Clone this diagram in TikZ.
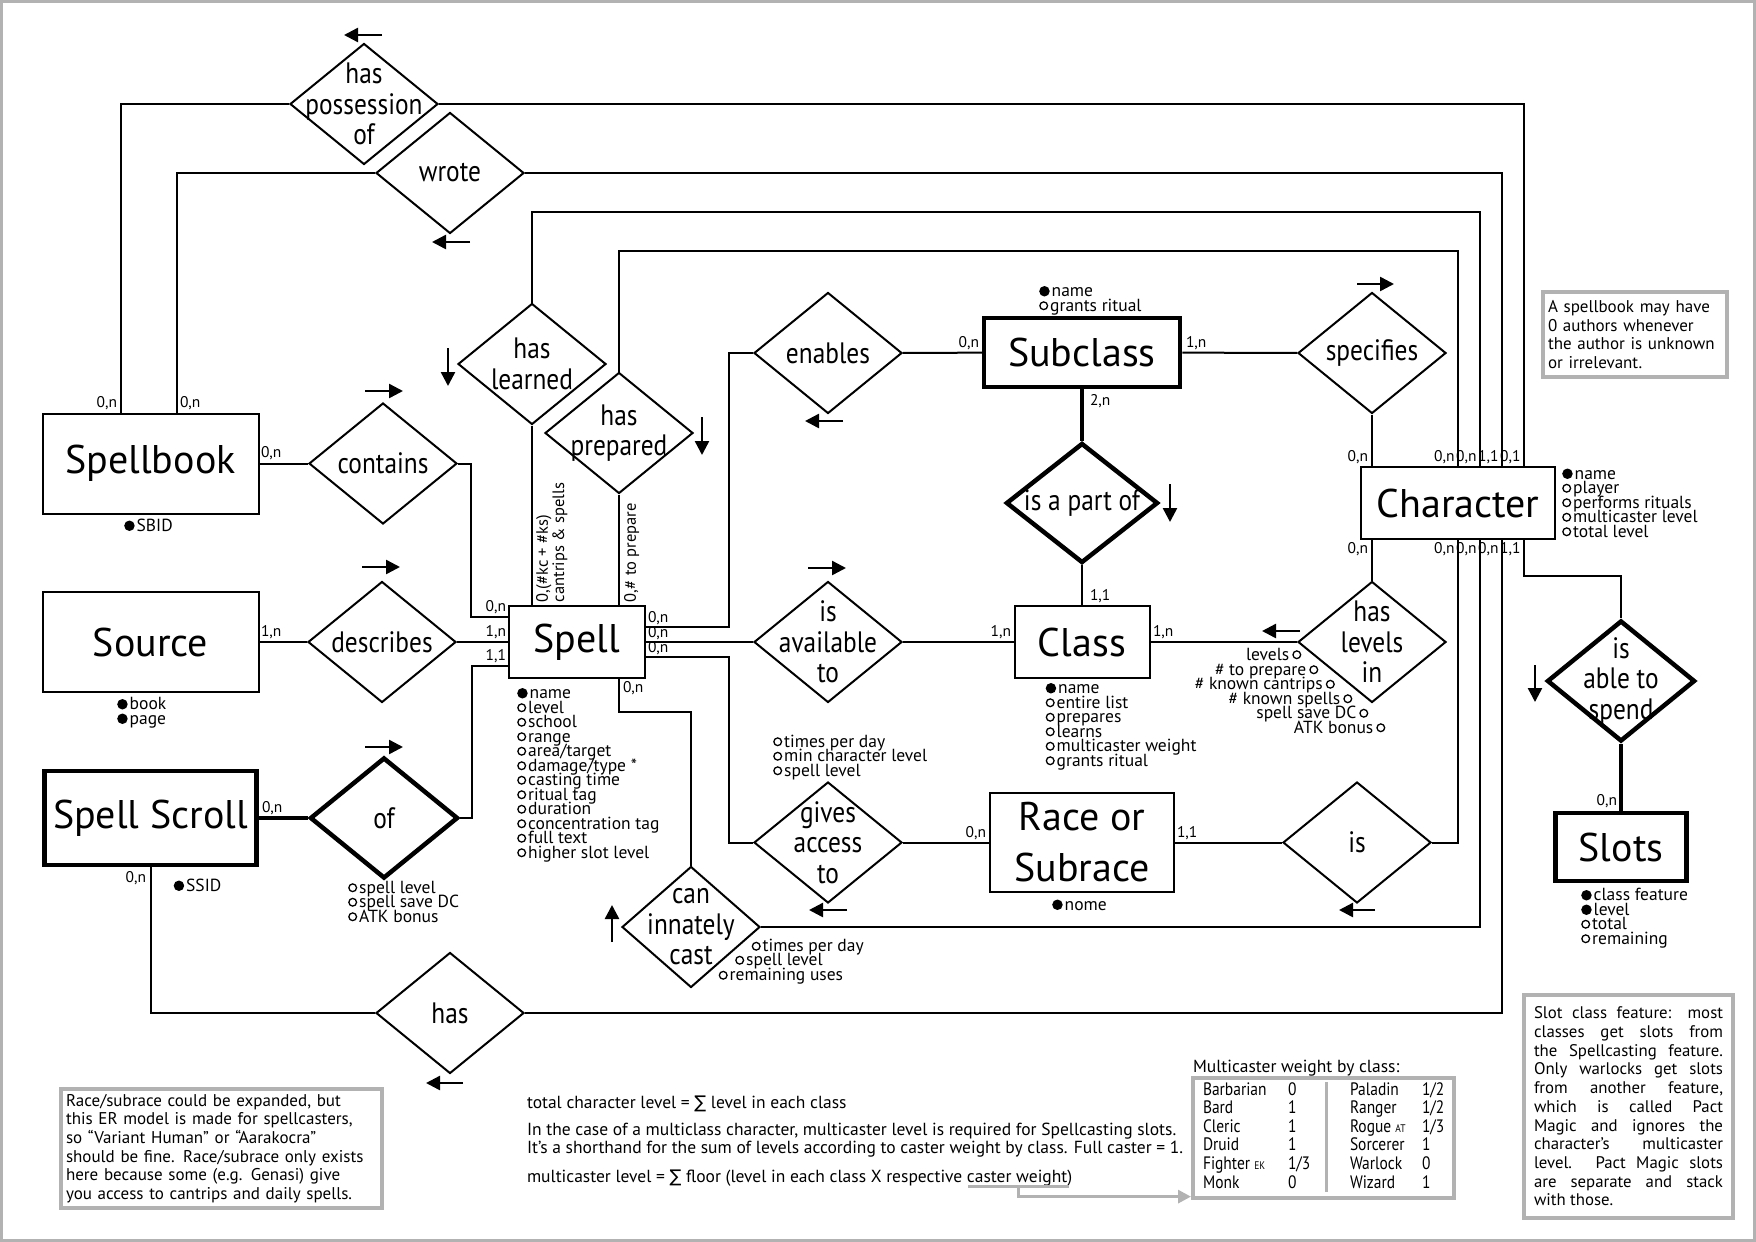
\documentclass[tikz,border=0pt]{standalone}
\usepackage{fontspec}
\setmainfont{PT Sans}
\newfontfamily\condfont{PT Sans}[FakeStretch=0.86]
\newfontfamily\symbfont{DejaVu Sans}
\usetikzlibrary{shapes.geometric,arrows.meta}

\newcommand{\entfont}{\fontsize{40}{51}\selectfont}
\newcommand{\relfont}{\condfont\fontsize{29.5}{30.5}\selectfont}
\newcommand{\cardfont}{\fontsize{15.5}{15.5}\selectfont}
\newcommand{\sidefont}{\fontsize{16.5}{14}\selectfont}
\newcommand{\attrfont}{\fontsize{17.5}{14.5}\selectfont\lineskiplimit=-20pt\lineskip=0pt}
\newcommand{\notefont}{\fontsize{17}{18.7}\selectfont}
\newcommand{\plainfont}{\fontsize{17.5}{15}\selectfont}
\newcommand{\tablefont}{\condfont\fontsize{18}{18.6}\selectfont}
\newcommand{\kp}{\tikz[baseline=-0.3em]\fill (0,0) circle (0.3em);\hspace{2pt}}
\newcommand{\op}{\tikz[baseline=-0.3em]\draw[line width=1.3pt] (0,0) circle (0.22em);\hspace{2pt}}
\newcommand{\po}{\hspace{3pt}\tikz[baseline=-0.3em]\draw[line width=1.3pt] (0,0) circle (0.22em);}
\newcommand{\sumsign}{{\symbfont ∑}}

\begin{document}
\begin{tikzpicture}[x=1pt, y=-1pt, line width=2pt,
  entity/.style={draw, font=\entfont, inner sep=0pt, align=center},
  heavy/.style={line width=4.5pt},
  rel/.style={diamond, draw, minimum width=148, minimum height=121, inner sep=0pt,
    label={[font=\relfont, align=center]center:{#1}}},
  card/.style={font=\cardfont, inner sep=1pt},
  attr/.style={font=\attrfont, align=left, inner sep=0pt, anchor=base west},
  flow/.style={-{Triangle[length=14pt,width=14pt]}, line width=2.5pt},
  notebox/.style={draw=black!30, line width=4pt, font=\notefont, align=left,
    inner sep=5pt, anchor=north west},
  hint/.style={draw=black!30, line width=3pt}]

\useasboundingbox (0,0) rectangle (1756,1242);
\draw[black!30, line width=2.5pt] (1.5,1.5) rectangle (1754.5,1240.5);

% entities
\node[entity, minimum width=216, minimum height=100] (spellbook) at (150.5,463.5) {Spellbook};
\node[entity, minimum width=216, minimum height=100] (source) at (150.5,642) {Source};
\node[entity, heavy, minimum width=212, minimum height=94] (scroll) at (150.5,818) {Spell Scroll};
\node[entity, minimum width=136, minimum height=72] (spell) at (577,642) {Spell};
\node[entity, heavy, minimum width=196, minimum height=69] (subclass) at (1082,352.5) {Subclass};
\node[entity, minimum width=135, minimum height=72] (class) at (1082,642) {Class};
\node[entity, minimum width=194, minimum height=72] (character) at (1458,503) {Character};
\node[entity, minimum width=184, minimum height=99] (race) at (1082,842.5) {Race or\\Subrace};
\node[entity, heavy, minimum width=131, minimum height=68] (slots) at (1621,847) {Slots};

% relationships
\node[rel={has\\possession\\of}] (possession) at (364,104) {};
\node[rel={wrote}] (wrote) at (450,173) {};
\node[rel={has\\learned}] (learned) at (532,364) {};
\node[rel={has\\prepared}] (prepared) at (619,433) {};
\node[rel={contains}] (contains) at (383,463.5) {};
\node[rel={describes}] (describes) at (382,642) {};
\node[rel={of}, heavy] (of) at (384,818) {};
\node[rel={enables}] (enables) at (828,353) {};
\node[rel={is\\available\\to}] (available) at (828,642) {};
\node[rel={gives\\access\\to}] (access) at (828,842.5) {};
\node[rel={can\\innately\\cast}, minimum width=138] (innate) at (691,927) {};
\node[rel={has}] (has) at (450,1013) {};
\node[rel={is a part of}, heavy, minimum width=152, minimum height=120] (partof) at (1082,503) {};
\node[rel={specifies}] (specifies) at (1372,353) {};
\node[rel={has\\levels\\in}] (levels) at (1372,642) {};
\node[rel={is}] (is) at (1357,842.5) {};
\node[rel={is\\able to\\spend}, heavy, every label/.append style={yshift=8pt}] (spend) at (1621,681) {};

% connectors
\draw (possession.west) -| ([xshift=-29.5]spellbook.north);
\draw (possession.east) -| ([xshift=66]character.north);
\draw (wrote.west) -| ([xshift=26]spellbook.north);
\draw (wrote.east) -| ([xshift=44]character.north);
\draw (learned.north) |- (1480,212) -- ([xshift=22]character.north);
\draw (learned.south) -- (learned.south |- spell.north);
\draw (prepared.north) |- (1458,251) -- (character.north);
\draw (prepared.south) -- (prepared.south |- spell.north);
\draw (spellbook) -- (contains);
\draw (contains.east) -| (471,617) -- ([yshift=25]spell.west);
\draw (source) -- (describes);
\draw (describes) -- (spell);
\draw[heavy] (scroll) -- (of);
\draw (of.east) -| (472,666) -- ([yshift=-24]spell.west);
\draw (scroll.south) |- (has.west);
\draw (has.east) -| ([xshift=44]character.south);
\draw ([yshift=15]spell.east) -| (729,353) -- (enables.west);
\draw (enables) -- (subclass);
\draw (spell) -- (available);
\draw (available) -- (class);
\draw ([yshift=-15]spell.east) -| (729,842.5) -- (access.west);
\draw (access) -- (race);
\draw ([xshift=42]spell.south) |- (691,712) -- (innate.north);
\draw (innate.east) -| ([xshift=22]character.south);
\draw[heavy] (subclass) -- (partof);
\draw (partof) -- (class);
\draw (subclass) -- (specifies);
\draw (specifies) -- (specifies |- character.north);
\draw (levels) -- (levels |- character.south);
\draw (levels) -- (class);
\draw (race) -- (is);
\draw (is.east) -| (character.south);
\draw ([xshift=66]character.south) |- (1621,576) -- (spend.north);
\draw[heavy] (spend) -- (slots);

% reading direction
\draw[flow] (382,35) -- (344,35);
\draw[flow] (470,242) -- (432,242);
\draw[flow] (448,348) -- (448,386);
\draw[flow] (365,391) -- (403,391);
\draw[flow] (702,417) -- (702,455);
\draw[flow] (843,421) -- (805,421);
\draw[flow] (1357,284) -- (1394,284);
\draw[flow] (1170,484) -- (1170,522);
\draw[flow] (362,567) -- (400,567);
\draw[flow] (808,568) -- (846,568);
\draw[flow] (1300,631) -- (1262,631);
\draw[flow] (365,747) -- (403,747);
\draw[flow] (1535,665) -- (1535,702);
\draw[flow] (847,910) -- (809,910);
\draw[flow] (612,942) -- (612,905);
\draw[flow] (1375,910) -- (1339,910);
\draw[flow] (463,1083) -- (426,1083);

% cardinalities
\node[card, anchor=south east] (cbA) at (119,412) {0,n};
\node[card, anchor=south west] (cbB) at (178,412) {0,n};
\node[card, anchor=south west] (cbC) at (259,462) {0,n};
\node[card, anchor=south west] (csA) at (259,641) {1,n};
\node[card, anchor=south east] (cpA) at (508,616) {0,n};
\node[card, anchor=south east] (cpB) at (508,641) {1,n};
\node[card, anchor=south east] (cpC) at (508,665) {1,1};
\node[card, anchor=south west] (cpD) at (646,627) {0,n};
\node[card, anchor=south west] (cpE) at (646,642) {0,n};
\node[card, anchor=south west] (cpF) at (646,657) {0,n};
\node[card, anchor=north west] (cpG) at (621,679) {0,n};
\node[font=\sidefont, rotate=90, anchor=north west, align=left, inner sep=1pt] (cpH) at (534,604) {0,(\#kc + \#ks)\\cantrips \& spells};
\node[font=\sidefont, rotate=90, anchor=north west, align=left, inner sep=1pt] (cpI) at (622,604) {0,\# to prepare};
\node[card, anchor=south east] (cuA) at (981,352) {0,n};
\node[card, anchor=south west] (cuB) at (1184,352) {1,n};
\node[card, anchor=north west] (cuC) at (1088,392) {2,n};
\node[card, anchor=south west] (clA) at (1088,605) {1,1};
\node[card, anchor=south east] (clB) at (1013,641) {1,n};
\node[card, anchor=south west] (clC) at (1151,641) {1,n};
\node[card, anchor=south east] (chA) at (1370,466) {0,n};
\node[card, anchor=south east] (chB) at (1456.5,466) {0,n};
\node[card, anchor=south east] (chC) at (1478.5,466) {0,n};
\node[card, anchor=south east] (chD) at (1500.5,466) {1,1};
\node[card, anchor=south east] (chE) at (1522.5,466) {0,1};
\node[card, anchor=north east] (chF) at (1370,540) {0,n};
\node[card, anchor=north east] (chG) at (1456.5,540) {0,n};
\node[card, anchor=north east] (chH) at (1478.5,540) {0,n};
\node[card, anchor=north east] (chI) at (1500.5,540) {0,n};
\node[card, anchor=north east] (chJ) at (1522.5,540) {1,1};
\node[card, anchor=south east] (crA) at (988,842) {0,n};
\node[card, anchor=south west] (crB) at (1175,842) {1,1};
\node[card, anchor=south east] (cslA) at (1619,810) {0,n};
\node[card, anchor=south west] (cscA) at (260,817) {0,n};
\node[card, anchor=north east] (cscB) at (148,869) {0,n};

% attributes (anchored on the baseline of the last line)
\node[attr] (bookattr) at (124,531) {\kp SBID};
\node[attr] (sourceattr) at (117,724) {\kp book\\\kp page};
\node[attr] (scrollattr) at (173.5,891) {\kp SSID};
\node[attr] (ofattr) at (348,922) {\op spell level\\\op spell save DC\\\op ATK bonus};
\node[attr] (spellattr) at (517,858) {\kp name\\\op level\\\op school\\\op range\\\op area/target\\\op damage/type *\\\op casting time\\\op ritual tag\\\op duration\\\op concentration tag\\\op full text\\\op higher slot level};
\node[attr] (subclassattr) at (1039,311) {\kp name\\\op grants ritual};
\node[attr] (classattr) at (1045.5,766) {\kp name\\\op entire list\\\op prepares\\\op learns\\\op multicaster weight\\\op grants ritual};
\node[attr] (charattr) at (1562,537) {\kp name\\\op player\\\op performs rituals\\\op multicaster level\\\op total level};
\node[attr] (raceattr) at (1052,910) {\kp nome};
\node[attr] (accessattr) at (773,776) {\op times per day\\\op min character level\\\op spell level};
\node[attr] (slotattr) at (1581,944) {\kp class feature\\\kp level\\\op total\\\op remaining};
\node[attr, anchor=base east] (lvA) at (1301.5,660) {levels\po};
\node[attr, anchor=base east] (lvB) at (1318.5,675) {\# to prepare\po};
\node[attr, anchor=base east] (lvC) at (1335,689.5) {\# known cantrips\po};
\node[attr, anchor=base east] (lvD) at (1352.5,704) {\# known spells\po};
\node[attr, anchor=base east] (lvE) at (1368.5,718.5) {spell save DC\po};
\node[attr, anchor=base east] (lvF) at (1385.5,733) {ATK bonus\po};
\node[attr] (inA) at (751.5,951.5) {\op times per day};
\node[attr] (inB) at (735,965.5) {\op spell level};
\node[attr] (inC) at (718.5,980.5) {\op remaining uses};

% notes
\node[notebox, text width=174, minimum height=85] (booknote) at (1541,290)
  {A spellbook may have\\0 authors whenever\\the author is unknown\\or irrelevant.};
\node[notebox, text width=311] (racenote) at (59,1087)
  {Race/subrace could be expanded, but\\this ER model is made for spellcasters,\\so “Variant Human” or “Aarakocra”\\should be fine. Race/subrace only exists\\here because some (e.g. Genasi) give\\you access to cantrips and daily spells.};
\node[notebox, font=\fontsize{16.8}{18.7}\selectfont, align=justify, inner xsep=10pt, text width=189, minimum height=223] (slotnote) at (1522,993)
  {Slot class feature: most\linebreak classes get slots from\linebreak the Spellcasting feature.\linebreak Only warlocks get slots\linebreak from another feature,\linebreak which is called Pact\linebreak Magic and ignores the\linebreak character’s multicaster\linebreak level. Pact Magic slots\linebreak are separate and stack\linebreak with those.};

\node[font=\plainfont, anchor=base west, inner sep=0pt] (totalrule) at (526,1108)
  {total character level = \sumsign\ level in each class};
\node[font=\plainfont, anchor=base west, align=left, inner sep=0pt] (multinote) at (526,1153)
  {In the case of a multiclass character, multicaster level is required for Spellcasting slots.\\It’s a shorthand for the sum of levels according to caster weight by class. Full caster = 1.};
\node[font=\plainfont, anchor=base west, inner sep=0pt] (multirule) at (526,1182)
  {multicaster level = \sumsign\ floor (level in each class X respective caster weight)};

\node[font=\plainfont, anchor=base west, inner sep=0pt] (weighttitle) at (1192,1072) {Multicaster weight by class:};
\node[notebox, font=\tablefont, inner xsep=10pt, inner ysep=4pt] (weights) at (1191,1076)
  {\begin{tabular}{@{}p{73pt}p{50pt}p{60pt}l@{}}
   Barbarian & 0 & Paladin & 1/2\\
   Bard & 1 & Ranger & 1/2\\
   Cleric & 1 & Rogue {\fontsize{11}{11}\selectfont AT} & 1/3\\
   Druid & 1 & Sorcerer & 1\\
   Fighter {\fontsize{11}{11}\selectfont EK} & 1/3 & Warlock & 0\\
   Monk & 0 & Wizard & 1
   \end{tabular}};
\draw[hint] (1326,1082) -- (1326,1192);
\draw[hint] (968,1186) -- (1069,1186);
\draw[hint, -{Triangle[length=13pt,width=13pt]}] (1018,1186) |- ([yshift=3]weights.south west);
\end{tikzpicture}
\end{document}
